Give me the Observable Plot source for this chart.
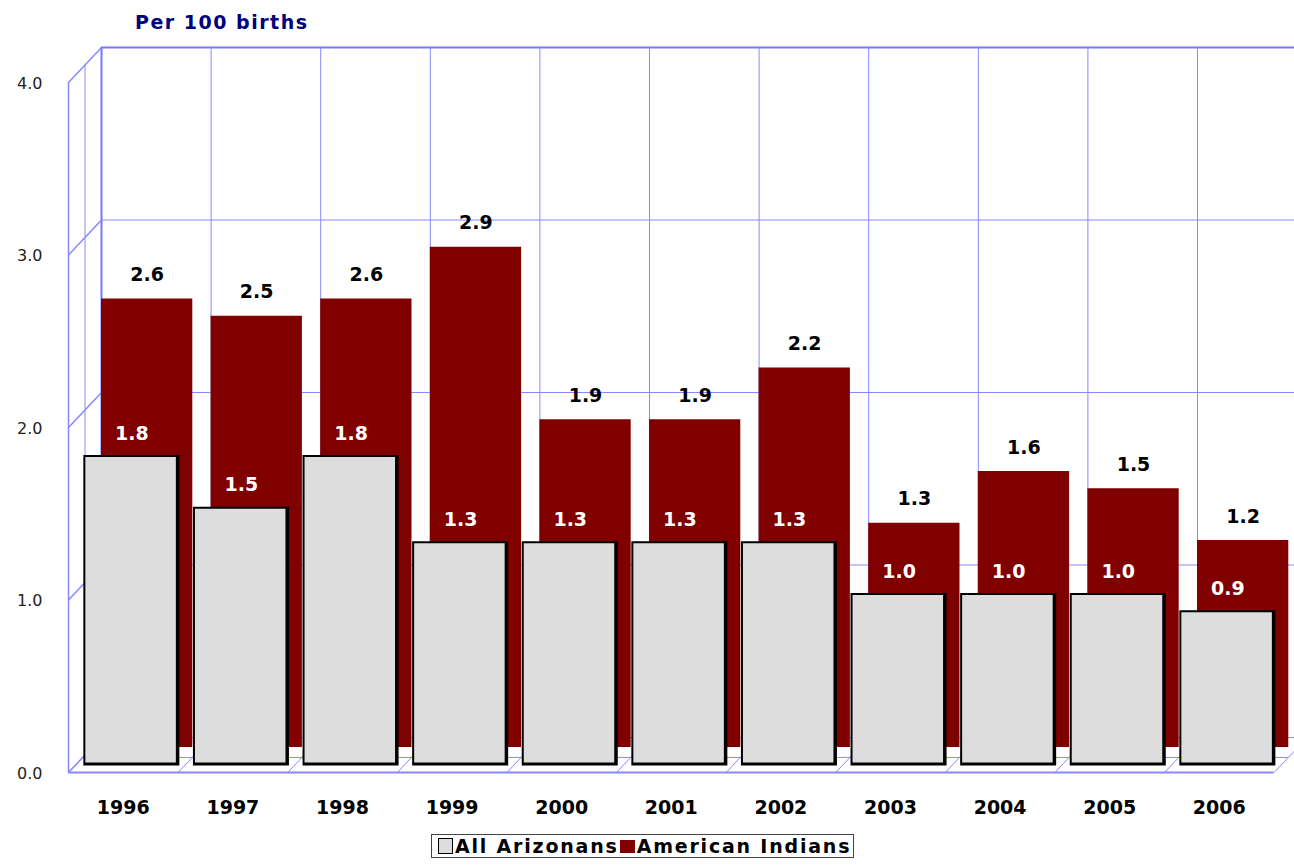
<!DOCTYPE html>
<html>
<head>
<meta charset="utf-8">
<script src="https://cdn.jsdelivr.net/npm/d3@7"></script>
<script src="https://cdn.jsdelivr.net/npm/@observablehq/plot@0.6"></script>
<style>
  html, body { margin: 0; padding: 0; background: #fff; }
  #wrap { position: relative; width: 1294px; height: 867px; overflow: hidden; font-family: "DejaVu Sans", Verdana, sans-serif; }
  #title { position: absolute; left: 135px; top: 10px; font-weight: bold; font-size: 19px; letter-spacing: 1.5px; color: #000080; line-height: 24px; }
  #chart { position: absolute; left: 0; top: 0; }
  #legend { position: absolute; left: 431px; top: 834px; width: 423px; height: 24px; border: 1px solid #444; background: #fff;
            display: flex; align-items: center; font-weight: bold; font-size: 19px; letter-spacing: 1.8px; color: #000; box-sizing: border-box; white-space: nowrap; }
  .sw { display: inline-block; width: 15px; height: 16px; box-sizing: border-box; margin-right: 2px; }
  svg text.bl { letter-spacing: 1.5px; }
  svg text.tk { letter-spacing: 1px; }
</style>
</head>
<body>
<div id="wrap">
  <div id="chart"></div>
  <div id="title">Per 100 births</div>
  <div id="legend"></div>
</div>
<script>
// ---- data ----
const years = ["1996","1997","1998","1999","2000","2001","2002","2003","2004","2005","2006"];
const allArizonans = [1.8, 1.5, 1.8, 1.3, 1.3, 1.3, 1.3, 1.0, 1.0, 1.0, 0.9];
const americanIndians = [2.6, 2.5, 2.6, 2.9, 1.9, 1.9, 2.2, 1.3, 1.6, 1.5, 1.2];
const yTicks = [0, 1, 2, 3, 4];
const seriesNames = ["All Arizonans", "American Indians"];
const seriesColors = ["#dddddd", "#800000"];

// ---- layout ----
const W = 1294, H = 867, mL = 68, mR = 20.4, mT = 82, mB = 95;
const n = years.length;
const kx = (W - mL - mR) / n;     // px per category
const ky = (H - mT - mB) / 4;     // px per unit
const bx = 33 / kx, by = 35 / ky; // depth offset in data units
const grid = "#8888ff";

const rows = years.map((year, i) => ({ year, i, all: allArizonans[i], ai: americanIndians[i] }));
const cats = d3.range(n + 1);

const font = "DejaVu Sans, Verdana, sans-serif";

const chart = Plot.plot({
  width: W, height: H,
  marginLeft: mL, marginRight: mR, marginTop: mT, marginBottom: mB,
  style: { fontFamily: font, background: "transparent", overflow: "visible" },
  x: { type: "linear", domain: [0, n], axis: null },
  y: { domain: [0, 4], axis: null },
  marks: [
    // back wall grid
    Plot.ruleY([1, 2, 3], { x1: bx, x2: n + bx, y: d => d + by, stroke: grid, strokeWidth: 1 }),
    Plot.ruleY([4], { x1: bx, x2: n + bx, y: d => d + by, stroke: "#7777ff", strokeWidth: 2 }),
    Plot.ruleX(cats, { x: d => d + bx, y1: by, y2: 4 + by, stroke: grid, strokeWidth: 1 }),
    Plot.ruleX([0], { x: d => d + bx, y1: by, y2: 4 + by, stroke: "#7777ff", strokeWidth: 2 }),
    // left wall
    Plot.ruleX([0], { x: d => d, y1: 0, y2: 4, stroke: grid, strokeWidth: 1.5 }),
    Plot.ruleX([0], { x: d => d + bx / 2, y1: by / 2, y2: 4 + by / 2, stroke: "#b0b0ff", strokeWidth: 1.5 }),
    Plot.link(yTicks, { x1: 0, y1: d => d, x2: bx, y2: d => d + by, stroke: grid, strokeWidth: 1.5 }),
    // floor
    Plot.ruleY([0], { x1: bx, x2: n + bx, y: by, stroke: grid, strokeWidth: 1 }),
    Plot.ruleY([0], { x1: 0.43 * bx, x2: n + 0.43 * bx, y: 0.43 * by, stroke: grid, strokeWidth: 1 }),
    Plot.link(cats, { x1: d => d, y1: 0, x2: d => d + bx, y2: by, stroke: grid, strokeWidth: 1 }),
    Plot.ruleY([0], { x1: 0, x2: n, y: 0, stroke: grid, strokeWidth: 2 }),
    // American Indians (back series)
    Plot.rect(rows, { x1: d => d.i + 0.301, x2: d => d.i + 1.134, y1: 0, y2: "ai", dy: -25, fill: seriesColors[1] }),
    Plot.text(rows, { x: d => d.i + 0.717, y: "ai", dy: -49, text: d => d.ai.toFixed(1),
      fontWeight: "bold", fontSize: 19, fill: "#000", className: "bl" }),
    // All Arizonans (front series)
    Plot.rect(rows, { x1: d => d.i + 0.14, x2: d => d.i + 1.016, y1: 0, y2: "all", dy: -6.5, fill: "#000" }),
    Plot.rect(rows, { x1: d => d.i + 0.14, x2: d => d.i + 1.016, y1: 0, y2: "all", dy: -6.5, fill: seriesColors[0],
      insetLeft: 2, insetTop: 2, insetRight: 3.5, insetBottom: 3 }),
    Plot.text(rows, { x: d => d.i + 0.578, y: "all", dy: -28.5, text: d => d.all.toFixed(1),
      fontWeight: "bold", fontSize: 19, fill: "#fff", className: "bl" }),
    // category labels
    Plot.text(rows, { x: d => d.i + 0.5, y: 0, dy: 35, text: "year", fontWeight: "bold", fontSize: 19, fill: "#000", className: "bl" }),
    // y tick labels
    Plot.text(yTicks, { x: 0, y: d => d, dx: -26, dy: 1, text: d => d.toFixed(1), textAnchor: "end", fontSize: 16, fill: "#222", className: "tk" })
  ]
});
document.getElementById("chart").appendChild(chart);

// legend
const lg = document.getElementById("legend");
lg.innerHTML =
  `<span class="sw" style="margin-left:6px;background:${seriesColors[0]};border:1.5px solid #000"></span><span>${seriesNames[0]}</span>` +
  `<span class="sw" style="margin-left:1px;background:${seriesColors[1]};height:13px"></span><span>${seriesNames[1]}</span>`;
</script>
</body>
</html>
